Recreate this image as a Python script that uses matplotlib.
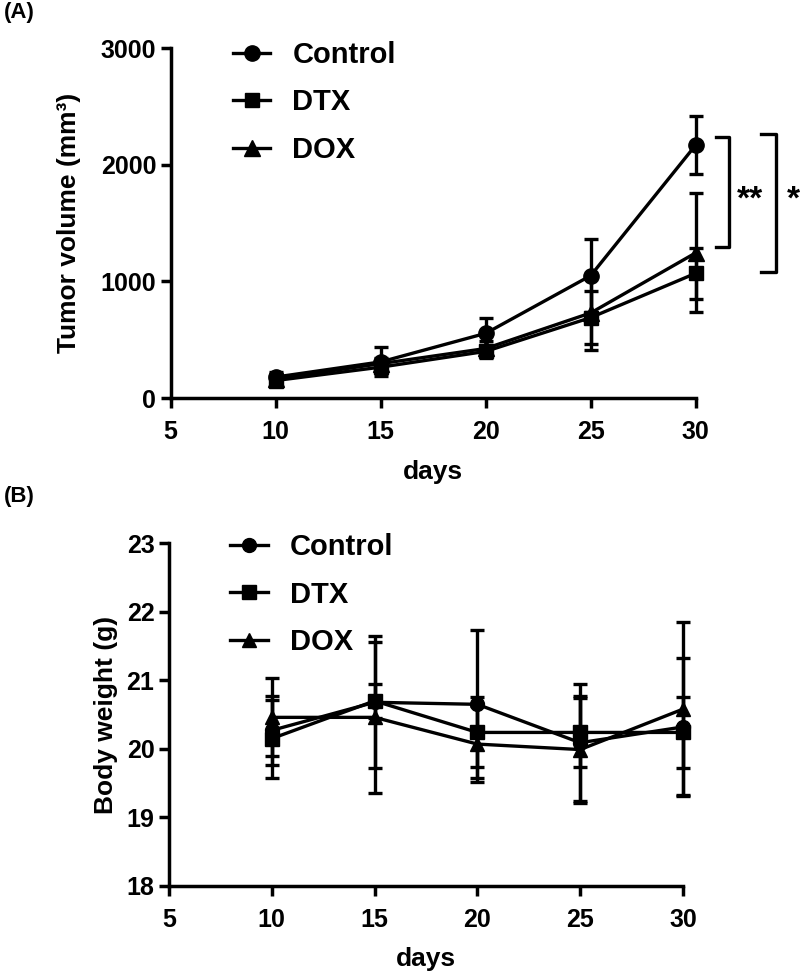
import numpy as np
import matplotlib
matplotlib.use("Agg")
import matplotlib.pyplot as plt

plt.rcParams['font.family'] = ['Liberation Sans', 'DejaVu Sans']
plt.rcParams['font.weight'] = 'bold'

# data
days = [10, 15, 20, 25, 30]
groups = ["Control", "DTX", "DOX"]
markers = ["o", "s", "^"]

# (A) tumor volume, mm3
tv_control = [180, 310, 555, 1050, 2170]
tv_control_err = [40, 125, 130, 315, 250]
tv_dtx = [150, 265, 400, 690, 1070]
tv_dtx_err = [40, 50, 55, 225, 220]
tv_dox = [165, 295, 425, 730, 1245]
tv_dox_err = [40, 45, 60, 320, 510]

# (B) body weight, g
bw_control = [20.27, 20.68, 20.65, 20.09, 20.32]
bw_control_err = [0.50, 0.96, 1.08, 0.85, 1.00]
bw_dtx = [20.15, 20.70, 20.24, 20.24, 20.24]
bw_dtx_err = [0.57, 0.25, 0.51, 0.50, 0.52]
bw_dox = [20.46, 20.46, 20.07, 19.99, 20.58]
bw_dox_err = [0.57, 1.10, 0.56, 0.78, 1.27]

# significance brackets in panel A (x in days, y in mm3)
br1_x = [30.95, 31.57]
br1_y = [1298, 2242]
br2_x = [33.1, 33.81]
br2_y = [1081, 2265]
star_y = 1700

fig = plt.figure(figsize=(8, 9.72), dpi=100)
axA = fig.add_axes([0.2134, 0.5905, 0.6562, 0.3598])
axB = fig.add_axes([0.2112, 0.0885, 0.6425, 0.3526])


def draw(ax, series, errs, msizes):
    handles = []
    for name, m, y, e, ms in zip(groups, markers, series, errs, msizes):
        c = ax.errorbar(days, y, yerr=e, color='black', marker=m, markersize=ms,
                        linewidth=2.4, elinewidth=2.4, capsize=5, capthick=2.4,
                        label=name, clip_on=False, zorder=3)
        handles.append(c.lines[0])
    return handles


def style(ax):
    for s in ['top', 'right']:
        ax.spines[s].set_visible(False)
    for s in ['left', 'bottom']:
        ax.spines[s].set_linewidth(2.5)
    ax.tick_params(width=2.5, length=7, labelsize=18)
    ax.tick_params(axis='x', pad=9)
    ax.set_xlim(5, 30)
    ax.set_xticks([5, 10, 15, 20, 25, 30])
    ax.set_xlabel("days", fontsize=19, fontweight='bold', labelpad=11)
    for t in ax.get_xticklabels() + ax.get_yticklabels():
        t.set_fontweight('bold')


hA = draw(axA, [tv_control, tv_dtx, tv_dox], [tv_control_err, tv_dtx_err, tv_dox_err], [11, 10, 11])
style(axA)
axA.set_ylim(0, 3000)
axA.set_yticks([0, 1000, 2000, 3000])
axA.set_ylabel("Tumor volume (mm³)", fontsize=19, fontweight='bold', labelpad=14)

# brackets
axA.plot([br1_x[0], br1_x[1], br1_x[1], br1_x[0]], [br1_y[1], br1_y[1], br1_y[0], br1_y[0]],
         color='black', lw=2.4, clip_on=False)
axA.plot([br2_x[0], br2_x[1], br2_x[1], br2_x[0]], [br2_y[1], br2_y[1], br2_y[0], br2_y[0]],
         color='black', lw=2.4, clip_on=False)
axA.text(32.57, star_y, "**", fontsize=24, ha='center', va='center', fontweight='bold')
axA.text(34.67, star_y, "*", fontsize=24, ha='center', va='center', fontweight='bold')

axA.legend(hA, groups, loc='upper left', bbox_to_anchor=(0.09, 1.063), frameon=False, fontsize=21,
           handlelength=1.3, handletextpad=0.75, labelspacing=0.67, borderpad=0)

hB = draw(axB, [bw_control, bw_dtx, bw_dox], [bw_control_err, bw_dtx_err, bw_dox_err], [10, 10, 10])
style(axB)
axB.set_ylim(18, 23)
axB.set_yticks([18, 19, 20, 21, 22, 23])
axB.set_ylabel("Body weight (g)", fontsize=19, fontweight='bold', labelpad=6)
axB.legend(hB, groups, loc='upper left', bbox_to_anchor=(0.09, 1.072), frameon=False, fontsize=21,
           handlelength=1.3, handletextpad=0.75, labelspacing=0.67, borderpad=0)

fig.text(0.005, 0.987, "(A)", fontsize=16, fontweight='bold', va='center')
fig.text(0.005, 0.489, "(B)", fontsize=16, fontweight='bold', va='center')

plt.savefig("out.png", dpi=100)
